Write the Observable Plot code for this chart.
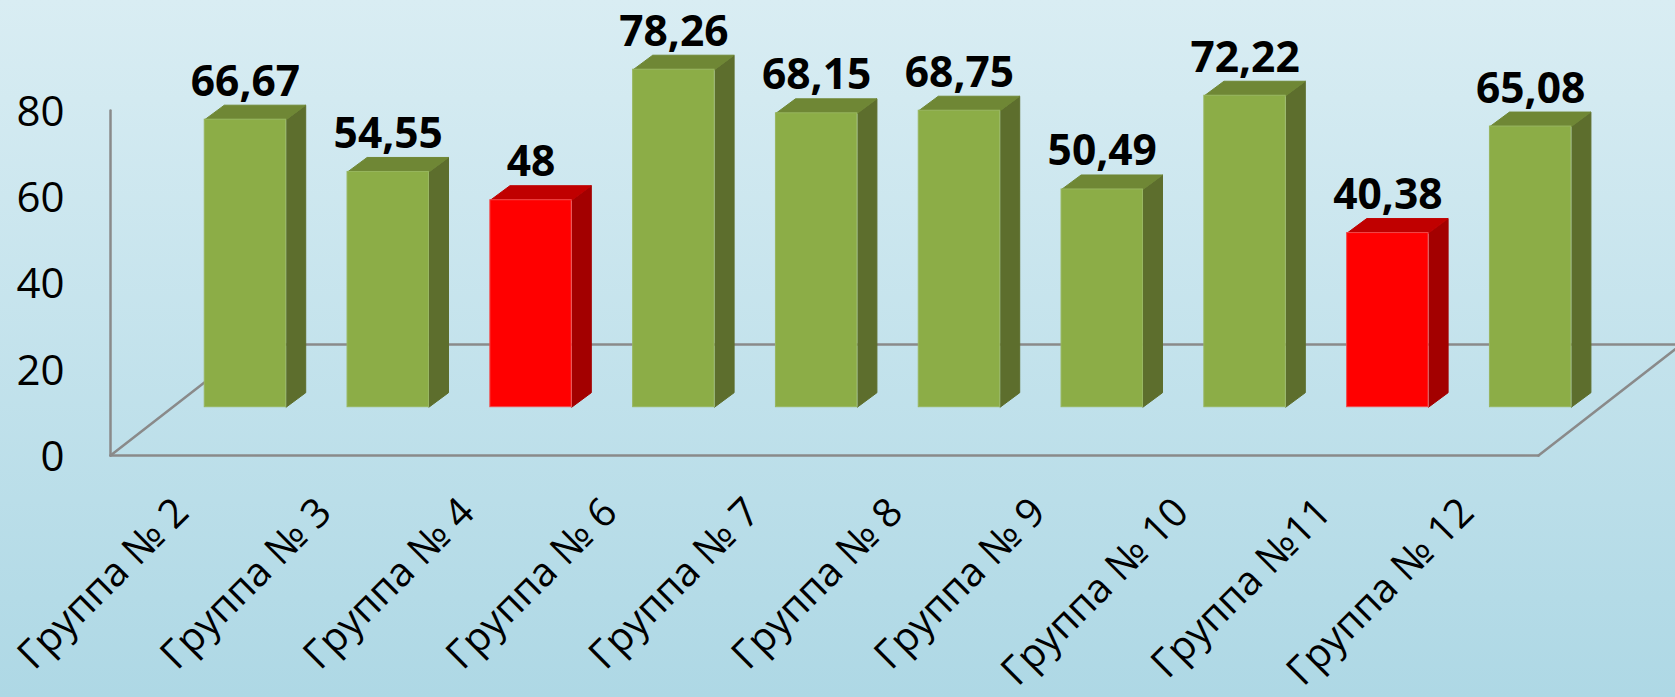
<!DOCTYPE html>
<html lang="ru"><head><meta charset="utf-8">
<script src="https://cdn.jsdelivr.net/npm/d3@7"></script>
<script src="https://cdn.jsdelivr.net/npm/@observablehq/plot@0.6"></script>
<style>
html,body{margin:0;padding:0;width:1675px;height:697px;overflow:hidden;background:linear-gradient(180deg,#d9edf3 0%,#aed8e5 100%);}
</style></head><body><div id="chart"></div>
<script>
const groups = ["Группа № 2","Группа № 3","Группа № 4","Группа № 6","Группа № 7","Группа № 8","Группа № 9","Группа № 10","Группа №11","Группа № 12"];
const values = [66.67,54.55,48,78.26,68.15,68.75,50.49,72.22,40.38,65.08];
const valueLabels = ["66,67","54,55","48","78,26","68,15","68,75","50,49","72,22","40,38","65,08"];
const yTicks = [0,20,40,60,80];

// Oblique projection, in data units of the x and y scales
const floorDX = 1.0, floorDY = 25.74;   // full depth of the floor
const barOffX = 0.445, barOffY = 11.2;  // front of the bars on the floor
const barDX = 0.137, barDY = 3.36;      // depth of one bar
const barW = 0.57;
const isLow = v => v < 50;
const bars = values.map((v,i)=>({i,v,label:valueLabels[i],x1:i+barOffX-barW/2,x2:i+barOffX+barW/2,y1:barOffY,y2:barOffY+v}));
const sideFaces = bars.flatMap(b=>[[b.x2,b.y1],[b.x2+barDX,b.y1+barDY],[b.x2+barDX,b.y2+barDY],[b.x2,b.y2]].map(([x,y])=>({k:b.i,x,y,fill:isLow(b.v)?"#a30000":"#5d6e2d"})));
const topFaces = bars.flatMap(b=>[[b.x1,b.y2],[b.x1+barDX,b.y2+barDY],[b.x2+barDX,b.y2+barDY],[b.x2,b.y2]].map(([x,y])=>({k:b.i,x,y,fill:isLow(b.v)?"#c00000":"#6f8735"})));
const L=-0.5,R=9.5;
const floor = [
  {k:"wall",x:L,y:0},{k:"wall",x:L,y:80},
  {k:"front",x:L,y:0},{k:"front",x:R,y:0},
  {k:"left",x:L,y:0},{k:"left",x:L+floorDX,y:floorDY},
  {k:"back",x:L+floorDX,y:floorDY},{k:"back",x:R+floorDX,y:floorDY},
  {k:"right",x:R,y:0},{k:"right",x:R+floorDX,y:floorDY}
];
const chart = Plot.plot({
  width:1675,height:697,marginLeft:110,marginRight:137,marginTop:110,marginBottom:242,
  style:{background:"transparent",fontFamily:"'Open Sans',sans-serif",color:"#000",overflow:"hidden"},
  x:{domain:[L,R]},
  y:{domain:[0,80]},
  color:{type:"identity"},
  marks:[
    Plot.line(floor,{x:"x",y:"y",z:"k",stroke:"#8a8a8a",strokeWidth:2.5}),
    Plot.line(sideFaces,{x:"x",y:"y",z:"k",fill:"fill",stroke:"fill",strokeWidth:1}),
    Plot.line(topFaces,{x:"x",y:"y",z:"k",fill:"fill",stroke:"fill",strokeWidth:1}),
    Plot.rect(bars,{x1:"x1",x2:"x2",y1:"y1",y2:"y2",fill:d=>isLow(d.v)?"#ff0000":"#8cad47",stroke:d=>isLow(d.v)?"#f24a4a":"#98b65f",strokeWidth:1}),
    Plot.text(bars,{x:d=>d.i+barOffX,y:"y2",text:"label",dy:-24,lineAnchor:"bottom",fontSize:42.5,fontWeight:700,fill:"#000"}),
    Plot.axisY({ticks:yTicks,tickSize:0,tickPadding:46,fontSize:42,dy:2,label:null,anchor:"left",fill:"#000"}),
    Plot.axisX(d3.range(groups.length),{tickSize:0,tickFormat:i=>groups[i],tickRotate:-45,fontSize:40,label:null,anchor:"bottom",tickPadding:44,dx:0,dy:6,fill:"#000"})
  ]
});
document.getElementById("chart").appendChild(chart);
</script></body></html>
